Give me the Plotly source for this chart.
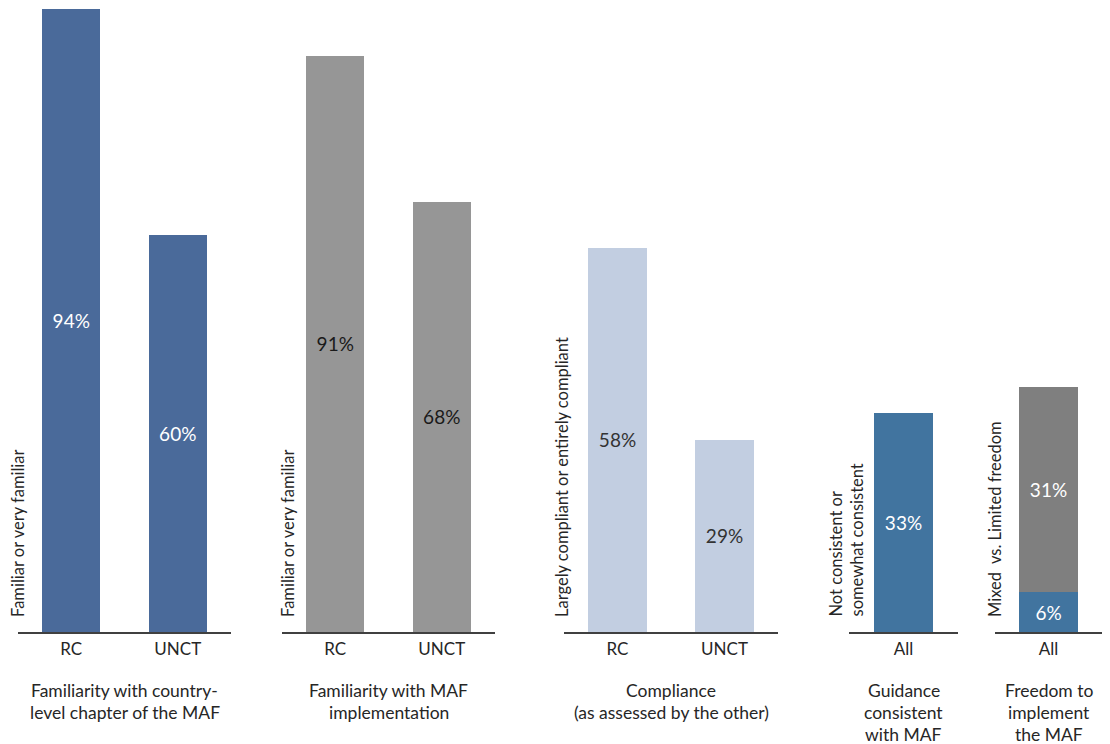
import plotly.graph_objects as go

# ---------------- data ----------------
pair_categories = ["RC", "UNCT"]
single_category = ["All"]

familiarity_chapter = [94, 60]
familiarity_implementation = [91, 68]
compliance = [58, 29]
guidance_not_consistent = [33]
freedom_limited = [6]
freedom_mixed = [31]

panel_titles = [
    ["Familiarity with country-", "level chapter of the MAF"],
    ["Familiarity with MAF", "implementation"],
    ["Compliance", "(as assessed by the other)"],
    ["Guidance", "consistent", "with MAF"],
    ["Freedom to", "implement", "the MAF"],
]
axis_labels = [
    "Familiar or very familiar",
    "Familiar or very familiar",
    "Largely compliant or entirely compliant",
    "Not consistent or<br>somewhat consistent",
    "Mixed\u00a0 vs. Limited freedom",
]

# ---------------- styling ----------------
OFF = 8                      # page body margin
W, H = 1110 - OFF, 744 - OFF  # figure size so that it fills the window
BASE = 632                   # window pixel row of the baseline
PLOT_H = BASE - OFF          # plot-area height in pixels
FONT = "Lato, 'Open Sans', sans-serif"
TXT = "#262626"
AXIS_LINE = "#404040"

c_panel1 = "#4A6A9A"
c_panel2 = "#969696"
c_panel3 = "#C2CEE1"
c_panel4 = "#41749F"
c_panel5_gray = "#7F7F7F"
c_panel5_blue = "#41749F"


def px(xpix):
    return (xpix - OFF) / W


def py(ypix):
    return (BASE - ypix) / PLOT_H


domains = [
    (px(18), px(231)),
    (px(282), px(495)),
    (px(564), px(778)),
    (px(849), px(958)),
    (px(995), px(1102)),
]
# vertical scale of each panel (pixels per percentage point)
scales = [6.624, 6.33, 6.624, 6.624, 6.624]
y_ranges = [[0, PLOT_H / s] for s in scales]

fig = go.Figure()


def add_bar(idx, x, y, color, textcolor, name):
    suffix = "" if idx == 1 else str(idx)
    fig.add_trace(go.Bar(
        x=x, y=y, name=name,
        marker=dict(color=color, line=dict(width=0)),
        texttemplate="%{y}%", textposition="inside", insidetextanchor="middle",
        textangle=0,
        textfont=dict(family=FONT, size=19, color=textcolor),
        xaxis="x" + suffix, yaxis="y" + suffix,
        showlegend=False, hoverinfo="x+y",
    ))


add_bar(1, pair_categories, familiarity_chapter, c_panel1, "white", "Familiarity with country-level chapter")
add_bar(2, pair_categories, familiarity_implementation, c_panel2, "#1a1a1a", "Familiarity with MAF implementation")
add_bar(3, pair_categories, compliance, c_panel3, "#333333", "Compliance")
add_bar(4, single_category, guidance_not_consistent, c_panel4, "white", "Guidance consistent")
add_bar(5, single_category, freedom_limited, c_panel5_blue, "white", "Limited freedom")
add_bar(5, single_category, freedom_mixed, c_panel5_gray, "white", "Mixed freedom")

layout = dict(
    width=W, height=H,
    margin=dict(l=0, r=0, t=0, b=H - PLOT_H, pad=0),
    paper_bgcolor="white", plot_bgcolor="white",
    barmode="stack", bargap=0.455,
    font=dict(family=FONT, size=16, color=TXT),
    showlegend=False,
)

for i in range(5):
    suffix = "" if i == 0 else str(i + 1)
    layout["xaxis" + suffix] = dict(
        domain=list(domains[i]), anchor="y" + suffix,
        showline=True, linecolor=AXIS_LINE, linewidth=1.5,
        showgrid=False, zeroline=False, ticks="",
        tickfont=dict(family=FONT, size=17, color=TXT),
        ticklabelstandoff=1, fixedrange=True,
    )
    layout["yaxis" + suffix] = dict(
        domain=[0, 1], anchor="x" + suffix, range=y_ranges[i],
        visible=False, showgrid=False, zeroline=False, fixedrange=True,
    )

annotations = []
title_centers = [124.5, 388.5, 671, 903.5, 1048.5]
line_rows = [690, 712.5, 734.5]
for i, lines in enumerate(panel_titles):
    for j, line in enumerate(lines):
        annotations.append(dict(
            text=line, xref="paper", yref="paper",
            x=px(title_centers[i]), y=py(line_rows[j]),
            xanchor="center", yanchor="middle", showarrow=False,
            font=dict(family=FONT, size=17.5, color=TXT),
        ))

label_x = [18, 288, 562, 846, 995]
for i, lab in enumerate(axis_labels):
    annotations.append(dict(
        text=lab, xref="paper", yref="paper",
        x=px(label_x[i]), y=py(619),
        xanchor="center", yanchor="bottom", showarrow=False,
        textangle=-90, align="left",
        font=dict(family=FONT, size=16.5, color=TXT),
    ))

layout["annotations"] = annotations
fig.update_layout(**layout)

fig.write_html("out.html")
